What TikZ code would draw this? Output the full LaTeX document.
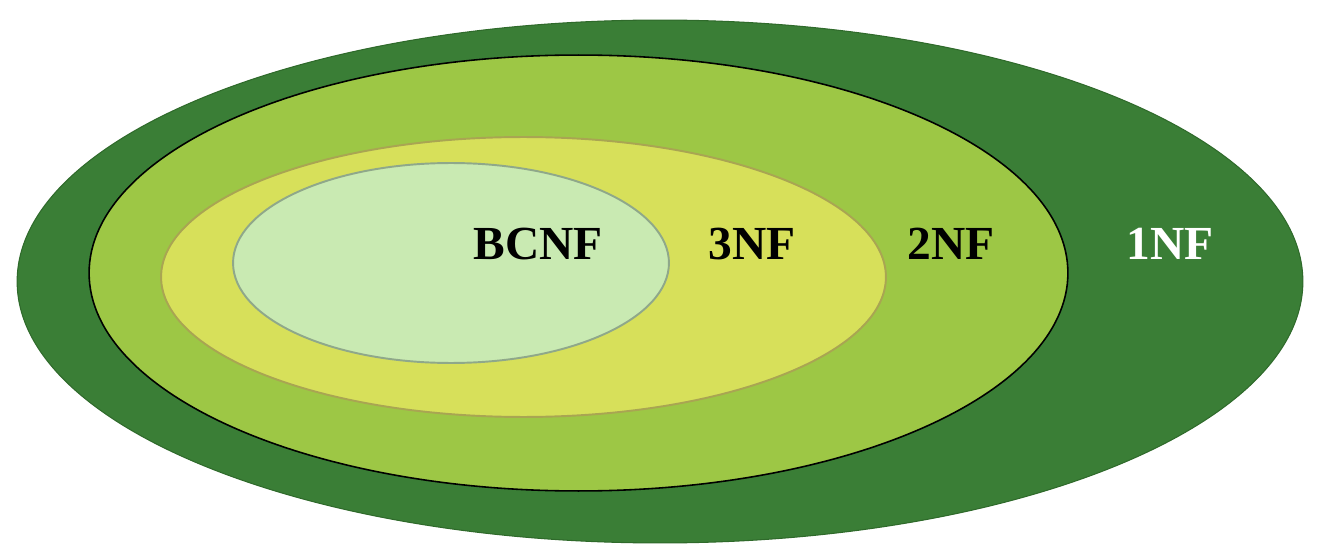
\documentclass[tikz,border=0pt]{standalone}
\usepackage{fontspec}
\setmainfont{Liberation Serif}
\usetikzlibrary{positioning}
\definecolor{oneNF}{HTML}{3A7E36}
\definecolor{oneNFline}{HTML}{2F6A2B}
\definecolor{twoNF}{HTML}{9DC745}
\definecolor{threeNF}{HTML}{D7E05A}
\definecolor{threeNFline}{HTML}{A9A552}
\definecolor{bcNF}{HTML}{C9EAB2}
\definecolor{bcNFline}{HTML}{8FA88A}
\tikzset{nfset/.style=
   {line width=1.1pt}}
\tikzset{nflabel/.style=
   {inner sep=0pt,
    font=\fontsize{27}{30}\selectfont\bfseries}}

\begin{document}
\begin{tikzpicture}[x=0.02cm, y=-0.02cm]
    \useasboundingbox (0,0) rectangle (1318,557);

    % Nested sets
    \draw [nfset, fill=oneNF, draw=oneNFline, line width=0.6pt]
        (660,281.5) ellipse [x radius=12.86cm, y radius=5.23cm];
    \draw [nfset, fill=twoNF, draw=black, line width=0.9pt]
        (578.5,273) ellipse [x radius=9.79cm, y radius=4.36cm];
    \draw [nfset, fill=threeNF, draw=threeNFline]
        (523.5,277) ellipse [x radius=7.25cm, y radius=2.8cm];
    \draw [nfset, fill=bcNF, draw=bcNFline]
        (451,263) ellipse [x radius=4.36cm, y radius=2cm];

    % Labels
    \node [nflabel] (bcnf) at (538,244) {BCNF};
    \node [nflabel] (nf3) at (752,244) {3NF};
    \node [nflabel] (nf2) at (951,244) {2NF};
    \node [nflabel, text=white] (nf1) at (1170,244) {1NF};

\end{tikzpicture}
\end{document}
